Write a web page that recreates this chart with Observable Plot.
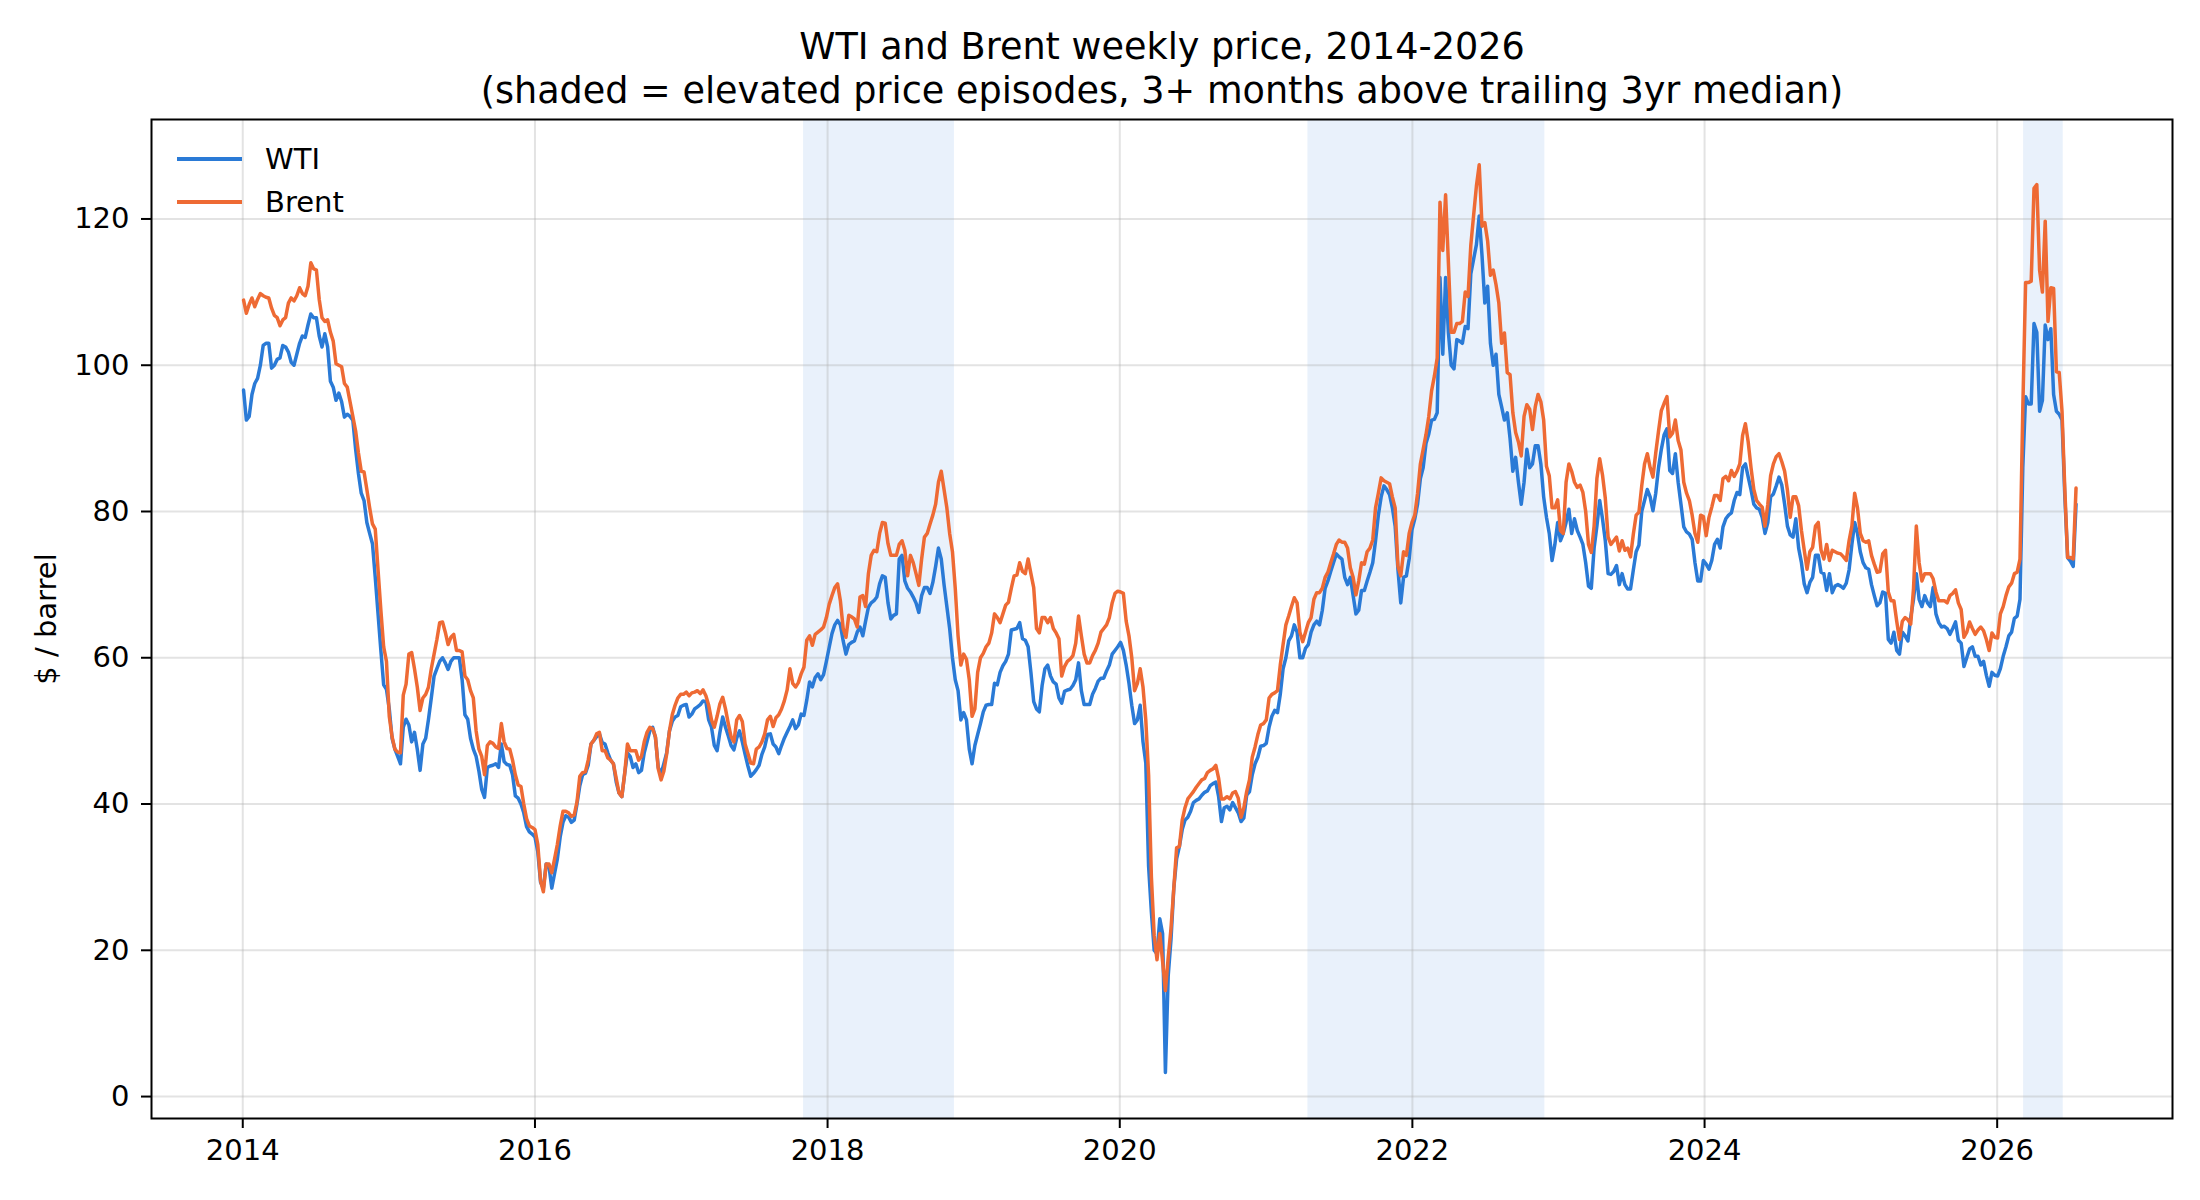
<!DOCTYPE html>
<html><head><meta charset="utf-8">
<script src="https://cdn.jsdelivr.net/npm/d3@7"></script>
<script src="https://cdn.jsdelivr.net/npm/@observablehq/plot@0.6"></script>
<style>
body{margin:0;background:#fff;font-family:"DejaVu Sans",sans-serif;}
#wrap{position:relative;width:2200px;height:1200px;overflow:hidden;background:#fff;}
#title{box-sizing:border-box;height:113px;padding-top:25px;padding-left:124px;text-align:center;font-size:36.6px;line-height:44px;color:#000;white-space:nowrap;}
.item{position:absolute;left:177px;height:34px;line-height:34px;display:flex;align-items:center;font-size:29px;color:#000;white-space:nowrap;}
.swatch{width:65px;height:3.5px;margin-right:23px;}
svg{display:block;}
</style></head>
<body>
<div id="wrap">
  <div id="title">WTI and Brent weekly price, 2014-2026<br>(shaded = elevated price episodes, 3+ months above trailing 3yr median)</div>
  <div id="chart"></div>
  <div class="item" style="top:142px"><span class="swatch" style="background:#2a7ad6"></span>WTI</div>
  <div class="item" style="top:185px"><span class="swatch" style="background:#ee6a34"></span>Brent</div>
</div>
<script>
const wti2014 = [96.6,92.5,93.0,96.0,97.5,98.2,100.0,102.7,103.0,103.0,99.6,100.0,100.8,101.0,102.7,102.5,101.8,100.4,100.0,101.5,103.0,104.0,103.8,105.5,107.0,106.5,106.5,104.0,102.5,104.3,102.5,97.8,97.0,95.2,96.2,95.0,92.9,93.3,93.0,92.5,88.5,85.2,82.5,81.5,78.5,77.0,75.6,71.0,66.0,61.0,56.3,55.7];
const brent2014 = [108.9,107.1,108.3,109.2,108.0,109.0,109.8,109.5,109.3,109.2,107.8,106.8,106.5,105.4,106.2,106.5,108.5,109.2,108.8,109.5,110.6,109.8,109.5,110.8,114.0,113.2,113.0,109.0,106.5,106.0,106.2,104.5,103.3,100.2,100.0,99.8,97.5,97.0,95.0,93.0,91.0,88.0,85.5,85.4,83.0,80.5,78.3,77.6,72.0,66.5,61.5,59.5];
const wti2015 = [53.0,49.0,47.5,46.5,45.5,50.5,51.6,50.8,48.5,49.8,47.5,44.6,48.2,49.0,51.6,54.5,57.5,58.5,59.5,60.0,59.3,58.4,59.5,60.0,60.0,60.0,57.0,52.2,51.6,49.0,47.5,46.5,44.5,42.0,40.9,45.0,45.2,45.3,45.5,45.0,48.2,45.8,45.4,45.3,44.0,41.1,40.8,40.0,38.8,36.9,36.2,35.9];
const brent2015 = [52.0,49.2,47.5,47.1,47.0,54.9,56.4,60.5,60.7,58.5,56.0,52.8,54.5,55.0,56.0,58.5,60.5,62.5,64.8,64.9,63.5,61.8,62.8,63.2,61.0,61.0,60.8,57.5,57.0,55.5,54.5,50.0,47.5,46.5,44.0,48.0,48.5,48.3,47.8,47.6,51.0,48.5,47.6,47.5,46.0,44.0,42.6,42.4,40.0,38.0,37.0,36.8];
const wti2016 = [35.5,33.5,29.3,28.5,31.8,31.5,28.5,30.5,32.5,35.5,37.5,38.4,38.2,37.5,37.8,40.0,42.5,44.0,44.2,45.3,48.2,48.7,49.2,49.6,48.4,48.2,47.0,46.0,45.5,43.0,41.5,41.0,44.1,47.0,46.5,45.0,45.5,44.3,44.6,47.0,48.5,50.0,50.5,49.1,45.0,44.1,45.5,47.0,50.0,51.3,51.9,52.1,53.3];
const brent2016 = [36.5,34.5,29.5,28.0,31.8,31.8,30.6,32.5,34.5,37.0,39.0,39.0,38.8,38.3,38.5,40.3,43.8,44.3,44.4,46.0,48.2,48.7,49.6,49.8,47.3,47.3,46.3,46.0,45.5,43.5,41.5,41.0,44.1,48.2,47.3,47.3,47.3,46.0,46.5,48.5,49.8,50.5,50.3,49.2,44.8,43.3,44.5,46.8,50.0,52.2,53.5,54.5,55.0];
const wti2017 = [53.5,53.6,51.9,52.3,53.0,53.3,53.6,54.1,54.0,51.5,50.5,48.0,47.3,49.8,51.9,50.5,49.3,48.0,47.4,49.0,50.0,48.5,46.8,45.2,43.8,44.2,44.7,45.3,46.8,47.8,49.5,49.6,48.2,47.8,46.9,48.0,49.0,49.8,50.6,51.5,50.3,50.8,52.3,52.1,54.2,56.7,56.0,57.3,57.8,57.0,57.7,59.5];
const brent2017 = [55.0,55.3,54.8,55.2,55.3,55.5,55.1,55.6,54.8,53.5,51.5,50.5,52.0,53.7,54.6,53.0,51.0,49.2,48.5,51.5,52.1,51.3,48.2,46.9,45.6,45.5,47.5,47.8,48.5,49.6,51.5,52.0,50.6,51.8,52.2,53.0,54.1,55.6,58.5,56.5,56.0,56.6,57.8,58.7,62.4,63.0,61.7,63.2,63.5,63.8,64.2,65.5];
const wti2018 = [61.4,63.3,64.5,65.1,64.5,62.3,60.5,61.8,62.1,62.3,63.5,64.2,63.0,65.0,66.9,67.5,67.8,68.3,70.1,71.2,71.0,67.5,65.3,65.8,66.0,73.5,74.0,70.5,69.5,69.0,68.3,67.5,66.2,68.5,69.6,69.6,68.8,70.3,72.5,75.0,73.5,70.0,67.0,64.0,60.0,57.0,55.5,51.5,52.5,51.5,47.5,45.5];
const brent2018 = [67.3,68.5,69.6,70.1,67.8,64.0,62.8,65.8,65.6,65.3,64.2,68.3,68.5,67.0,71.5,74.0,74.7,74.5,77.0,78.5,78.4,75.6,74.0,74.0,74.0,75.5,76.0,74.7,71.2,74.0,73.0,71.5,69.9,73.5,76.5,77.0,78.3,79.5,81.0,84.0,85.5,83.0,80.5,77.0,74.5,69.5,63.0,59.0,60.5,59.8,57.0,52.0];
const wti2019 = [48.0,49.5,51.0,52.6,53.5,53.6,53.6,56.5,56.3,58.0,58.9,59.5,60.5,63.8,63.9,64.0,64.8,62.6,62.4,61.5,58.0,54.0,53.0,52.6,56.2,58.5,59.0,57.5,56.7,56.4,54.5,53.8,55.4,55.6,55.7,56.2,57.0,59.3,55.5,53.6,53.6,53.6,55.0,55.8,56.8,57.2,57.2,58.2,59.0,60.5,61.0,61.5];
const brent2019 = [53.0,58.0,60.0,60.6,61.5,62.0,63.4,66.0,65.5,64.8,66.0,67.2,67.6,69.5,71.2,71.3,73.0,71.8,71.5,73.5,71.5,69.6,64.0,63.4,65.5,65.5,64.8,65.5,64.0,63.4,62.6,57.5,58.8,59.5,59.8,60.3,62.0,65.7,63.0,60.5,59.3,59.3,60.3,61.0,62.0,63.5,64.0,64.5,65.5,67.5,68.8,69.1];
const wti2020 = [62.1,61.0,59.0,56.5,53.5,51.0,51.5,53.5,48.5,45.6,31.5,25.2,20.0,19.5,24.3,22.3,3.3,16.5,21.5,28.5,32.5,34.2,36.5,37.8,38.2,39.0,40.2,40.5,40.7,41.2,41.6,41.8,42.5,42.8,43.0,41.0,37.6,39.5,39.7,39.2,40.2,39.5,38.8,37.6,38.1,41.2,41.7,44.0,45.5,46.4,47.9,48.0];
const brent2020 = [69.0,68.8,65.0,63.0,60.0,55.5,56.5,58.5,56.0,51.5,44.0,30.0,22.0,18.7,22.3,18.5,14.5,19.0,23.0,28.5,34.0,34.2,37.8,39.5,40.7,41.2,41.7,42.3,42.8,43.3,43.5,44.3,44.6,44.8,45.3,43.5,40.7,40.7,41.0,40.7,41.5,41.7,40.8,38.2,39.5,41.7,43.3,46.4,47.8,49.5,50.8,51.0];
const wti2021 = [48.3,50.5,52.0,52.8,52.5,55.0,58.5,60.0,62.3,63.0,64.5,63.5,60.0,60.0,61.3,61.8,63.5,64.5,65.0,64.5,66.5,69.5,70.5,71.8,73.0,74.2,73.8,73.5,71.0,70.0,71.0,68.5,66.0,66.5,69.2,69.2,70.5,71.7,73.0,76.0,79.5,82.0,83.5,83.0,82.3,80.5,78.0,72.0,67.5,71.0,71.2,73.5,77.5];
const brent2021 = [51.5,54.5,55.0,55.2,55.5,59.0,61.8,64.5,65.7,67.0,68.2,67.5,63.5,62.2,63.5,64.8,65.5,68.0,68.9,68.9,69.5,71.0,71.7,73.0,74.2,75.5,76.1,75.8,75.8,75.0,72.3,71.0,68.6,70.5,73.0,72.8,74.5,75.0,76.1,80.5,82.5,84.6,84.2,84.0,83.8,82.0,80.5,72.5,71.2,74.5,74.0,77.0,78.5];
const wti2022 = [79.0,81.0,84.5,86.0,89.3,90.6,92.5,92.6,93.5,112.0,101.5,112.0,104.5,100.0,99.5,103.5,103.3,103.0,105.3,105.0,112.5,114.5,116.5,120.4,115.0,108.5,110.8,103.0,100.0,101.5,96.0,94.3,92.5,93.5,90.0,85.5,87.4,84.0,81.0,84.0,88.5,86.0,86.5,89.0,89.0,86.5,82.0,79.2,77.0,73.3,75.5,78.5];
const brent2022 = [79.5,82.5,86.5,88.5,90.5,93.0,96.5,98.5,101.0,122.3,115.7,123.3,114.0,104.5,104.5,105.7,105.7,106.0,110.0,109.4,116.4,120.5,124.5,127.4,119.0,119.5,117.0,112.3,113.0,111.0,108.5,103.0,104.4,99.0,98.7,93.5,90.8,89.5,87.6,93.0,94.6,94.0,91.2,94.3,96.0,95.0,92.5,86.2,84.9,80.5,80.5,81.6];
const wti2023 = [76.0,77.0,78.5,80.3,77.0,79.0,77.4,76.5,75.5,73.0,69.8,69.5,75.0,78.0,81.5,79.0,76.0,71.5,71.4,71.8,72.6,70.0,71.5,70.0,69.4,69.4,72.0,74.5,75.4,80.0,81.5,83.0,82.0,80.1,82.5,86.0,88.5,90.5,91.3,85.6,85.2,87.9,84.0,81.0,77.9,77.2,76.9,76.2,73.0,70.5,70.5,73.3];
const brent2023 = [77.4,77.0,84.0,86.5,85.5,84.0,83.3,83.6,82.6,80.0,75.5,74.4,78.0,84.5,87.2,85.0,81.8,76.5,75.5,76.0,76.5,74.6,76.0,74.7,75.0,73.8,76.9,79.5,79.9,83.5,86.5,87.9,86.0,84.7,88.0,91.0,93.8,94.8,95.7,90.2,90.7,92.5,89.7,88.4,84.0,82.5,81.5,79.5,77.0,75.8,79.5,79.3];
const wti2024 = [72.8,72.1,73.3,75.5,76.2,75.0,77.9,79.0,79.5,79.8,81.5,82.6,82.3,86.0,86.5,84.7,83.0,81.0,80.5,80.3,79.2,77.0,78.5,82.0,82.4,83.5,84.7,83.6,81.0,78.0,76.8,76.5,79.0,75.0,73.0,70.1,68.9,70.3,71.0,74.0,74.0,71.7,71.5,69.2,71.5,68.9,69.8,70.0,69.8,69.5,70.2,72.0];
const brent2024 = [76.7,79.2,80.6,82.2,82.2,81.5,84.5,84.8,84.2,85.6,84.8,85.5,86.5,90.4,92.0,89.5,86.0,83.0,81.5,81.0,80.6,78.0,81.0,84.9,86.5,87.5,87.9,86.8,85.5,82.9,79.2,82.0,82.0,80.8,77.4,74.7,72.1,74.5,75.1,78.0,78.5,74.7,73.5,75.5,73.3,74.7,74.5,74.3,74.2,73.8,73.3,76.0];
const wti2025 = [75.5,78.5,77.0,74.5,73.0,72.3,72.1,70.0,68.5,67.1,67.5,69.0,68.8,62.5,62.0,63.5,61.0,60.5,63.5,63.0,62.3,65.5,68.0,71.5,68.0,67.0,68.5,67.5,67.0,69.6,66.0,64.8,64.2,64.3,64.0,63.2,64.0,64.9,62.4,62.0,58.8,60.0,61.2,61.5,60.2,60.2,59.0,59.5,57.6,56.1,58.0,57.6];
const brent2025 = [78.0,82.5,80.5,77.0,76.0,75.8,76.0,74.0,72.8,71.7,71.8,74.2,74.7,69.0,67.8,67.8,65.0,62.5,65.0,65.5,65.2,64.6,69.5,78.0,73.0,70.5,71.5,71.5,71.5,70.8,69.0,67.8,67.8,67.8,67.5,68.5,68.8,69.3,67.5,66.6,62.8,63.5,64.9,64.0,63.2,63.8,64.2,63.7,62.5,61.0,63.4,62.8];
const wti2026 = [57.5,58.5,60.2,61.5,63.0,63.5,65.4,65.7,68.0,86.0,95.7,94.7,94.7,105.7,104.5,93.7,95.2,105.5,103.5,105.0,96.0,93.7,93.3,92.5,82.0,73.7,73.2,72.5,81.0];
const brent2026 = [62.7,66.0,67.0,68.5,69.7,70.2,71.5,71.7,73.5,94.0,111.3,111.3,111.5,124.2,124.7,113.0,110.0,119.7,106.0,110.6,110.5,99.1,99.0,93.7,83.0,73.7,73.7,73.5,83.2];

const years = [2014,2015,2016,2017,2018,2019,2020,2021,2022,2023,2024,2025,2026];
const wtiByYear = [wti2014,wti2015,wti2016,wti2017,wti2018,wti2019,wti2020,wti2021,wti2022,wti2023,wti2024,wti2025,wti2026];
const brentByYear = [brent2014,brent2015,brent2016,brent2017,brent2018,brent2019,brent2020,brent2021,brent2022,brent2023,brent2024,brent2025,brent2026];

const shadeStart = ["2017-11-02","2021-04-15","2026-03-08"];
const shadeEnd   = ["2018-11-14","2022-11-28","2026-06-15"];

const xTickYears = [2014,2016,2018,2020,2022,2024,2026];
const yTicks = [0,20,40,60,80,100,120];
const yLabel = "$ / barrel";

const BLUE = "#2a7ad6", ORANGE = "#ee6a34";

// weekly Friday dates for each year
function fridays(year, n) {
  const jan1 = new Date(Date.UTC(year, 0, 1));
  const off = (5 - jan1.getUTCDay() + 7) % 7;
  const out = [];
  for (let i = 0; i < n; i++) out.push(new Date(Date.UTC(year, 0, 1 + off + 7 * i)));
  return out;
}
function toRows(byYear) {
  const rows = [];
  years.forEach((y, k) => {
    const vals = byYear[k];
    const ds = fridays(y, vals.length);
    vals.forEach((v, i) => rows.push({date: ds[i], value: v}));
  });
  return rows;
}
const wtiRows = toRows(wtiByYear);
const brentRows = toRows(brentByYear);
const shades = shadeStart.map((s, i) => ({start: new Date(s), end: new Date(shadeEnd[i])}));
const xTicks = xTickYears.map(y => new Date(Date.UTC(y, 0, 1)));

const gridStyle = {stroke: "#b0b0b0", strokeOpacity: 0.35, strokeWidth: 2};

const chart = Plot.plot({
  width: 2200,
  height: 1087,
  marginTop: 6,
  marginRight: 28,
  marginBottom: 82,
  marginLeft: 151,
  style: {fontFamily: "'DejaVu Sans', sans-serif", fontSize: "29px", color: "#000", background: "#fff", overflow: "visible"},
  x: {type: "utc", domain: [new Date("2013-05-18"), new Date("2027-03-15")]},
  y: {domain: [-3.0, 133.6]},
  marks: [
    Plot.barX(shades, {x1: "start", x2: "end", fill: BLUE, fillOpacity: 0.1}),
    Plot.ruleX(xTicks, gridStyle),
    Plot.ruleY(yTicks, gridStyle),
    Plot.line(wtiRows, {x: "date", y: "value", stroke: BLUE, strokeWidth: 3.5}),
    Plot.line(brentRows, {x: "date", y: "value", stroke: ORANGE, strokeWidth: 3.5}),
    Plot.axisX(xTicks, {tickFormat: d3.utcFormat("%Y"), tickSize: 10, tickPadding: 11, label: null, strokeWidth: 2}),
    Plot.axisY(yTicks, {tickSize: 10, tickPadding: 12, label: null, strokeWidth: 2}),
    Plot.frame({stroke: "#000", strokeWidth: 2}),
    Plot.text([yLabel], {frameAnchor: "left", dx: -105, rotate: -90, textAnchor: "middle", lineAnchor: "middle", fontSize: 29})
  ]
});
document.getElementById("chart").appendChild(chart);
</script>
</body></html>
